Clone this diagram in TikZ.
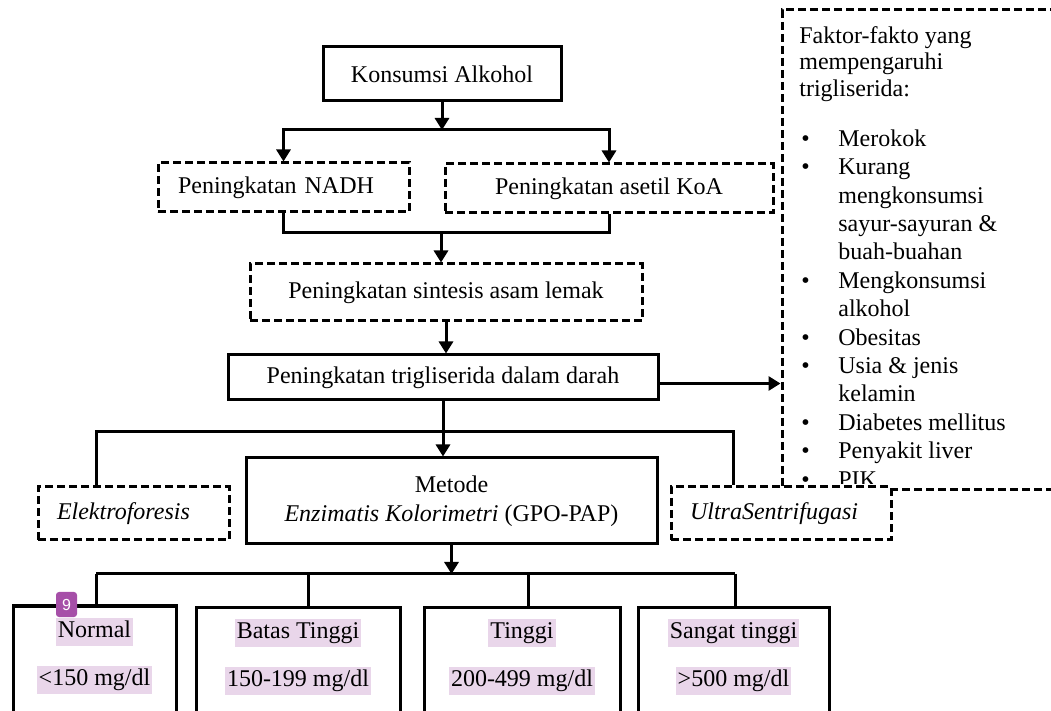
\documentclass[tikz,border=0pt]{standalone}
\usepackage{fontspec}
\setmainfont{Liberation Serif}
\newfontfamily\badgefont{Liberation Sans}
\usetikzlibrary{positioning,arrows.meta}
\definecolor{hlpink}{HTML}{E9D6EA}
\definecolor{badge}{HTML}{A64FA8}
\newcommand\butir{\makebox[19.5pt][l]{\hspace{1pt}\textbullet}}
\newcommand\lanjut{\hspace*{19.5pt}}
\tikzset{
  sbox/.style={draw, line width=1.5pt, fill=white, inner sep=0pt, align=center},
  dbox/.style={sbox, dash pattern=on 4pt off 2pt},
  link/.style={line width=1.5pt},
  arr/.style={link, -{Triangle[length=6pt,width=7pt]}},
  hl/.style={fill=hlpink, inner xsep=1pt, inner ysep=0pt},
}
\begin{document}
\begin{tikzpicture}[x=0.5pt,y=-0.5pt,font=\fontsize{12}{13.8}\selectfont]
    \useasboundingbox (0,0) rectangle (1051,711);
    \clip (0,0) rectangle (1051,711);
    \node[dbox, minimum width=144pt, minimum height=240pt] (faktor) at (926,250) {};
    \node[anchor=north west, inner sep=0pt, align=left, font=\fontsize{12}{13.4}\selectfont] (fhead) at (799,24)
        {\strut Faktor-fakto yang\\ mempengaruhi\\ trigliserida:};
    \begin{scope}
    \clip (782,12) rectangle (1051,484);
    \node[anchor=north west, inner sep=0pt, align=left, font=\fontsize{12}{14.2}\selectfont] (flist) at (799,126)
        {\strut\butir Merokok\\ \butir Kurang\\ \lanjut mengkonsumsi\\ \lanjut sayur-sayuran \&\\ \lanjut buah-buahan\\
         \butir Mengkonsumsi\\ \lanjut alkohol\\ \butir Obesitas\\ \butir Usia \& jenis\\ \lanjut kelamin\\
         \butir Diabetes mellitus\\ \butir Penyakit liver\\ \butir PIK};
    \end{scope}
    \node[sbox, minimum width=119pt, minimum height=27pt] (ka) at (442,74) {Konsumsi Alkohol};
    \node[dbox, text width=105.5pt, inner xsep=10pt, align=left, minimum height=24.5pt] (nadh) at (283.5,187.5) {Peningkatan NADH};
    \node[dbox, minimum width=164pt, minimum height=24.5pt] (koa) at (609,188.5) {Peningkatan asetil KoA};
    \node[dbox, minimum width=196pt, minimum height=28.5pt] (sint) at (446,292.5) {Peningkatan sintesis asam lemak};
    \node[sbox, minimum width=215pt, minimum height=22.5pt] (trig) at (443,377.5) {Peningkatan trigliserida dalam darah};
    \node[sbox, minimum width=205.5pt, minimum height=43pt, font=\fontsize{12}{14.5}\selectfont] (metode) at (451.5,501)
        {Metode\\ \textit{Enzimatis Kolorimetri} (GPO-PAP)};
    \node[dbox, text width=76.5pt, inner xsep=9.5pt, align=left, minimum height=26.5pt] (elek) at (133.5,513.5) {\textit{Elektroforesis}};
    \node[dbox, text width=91pt, inner xsep=9.5pt, align=left, minimum height=26.5pt] (ultra) at (781,513.5) {\textit{UltraSentrifugasi}};
    \node[sbox, minimum width=81.5pt, minimum height=62pt] (normal) at (94.5,668) {};
    \node[sbox, minimum width=102pt, minimum height=62pt] (batas) at (298,669) {};
    \node[sbox, minimum width=98pt, minimum height=62pt] (tinggi) at (522,669) {};
    \node[sbox, minimum width=95.5pt, minimum height=62pt] (sangat) at (733.5,669) {};
    \node[hl, below=6.5pt of normal.north] (normalA) {\strut Normal};
    \node[hl, below=10pt of normalA] (normalB) {\strut <150 mg/dl};
    \node[hl, below=6.5pt of batas.north] (batasA) {\strut Batas Tinggi};
    \node[hl, below=10pt of batasA] (batasB) {\strut 150-199 mg/dl};
    \node[hl, below=6.5pt of tinggi.north] (tinggiA) {\strut Tinggi};
    \node[hl, below=10pt of tinggiA] (tinggiB) {\strut 200-499 mg/dl};
    \node[hl, below=6.5pt of sangat.north] (sangatA) {\strut Sangat tinggi};
    \node[hl, below=10pt of sangatA] (sangatB) {\strut >500 mg/dl};
    \node[fill=badge, rounded corners=1.5pt, minimum width=10.5pt, minimum height=12.5pt, inner sep=0pt,
          text=white, font=\badgefont\fontsize{8}{8}\selectfont] (tanda) at (66.5,604.5) {9};

    \coordinate (s1) at (442,130);
    \coordinate (s2) at (441,233);
    \coordinate (b1) at (96,432);
    \coordinate (b2) at (733,432);
    \coordinate (c1) at (96,574);
    \coordinate (c2) at (308,574);
    \coordinate (c3) at (528,574);
    \coordinate (c4) at (735,574);
    \draw[arr] (ka.south) -- (s1);
    \draw[arr] (s1) -| (nadh.north);
    \draw[arr] (s1) -| (koa.north);
    \draw[link] (nadh.south) |- (s2) -| (koa.south);
    \draw[arr] (s2) -- (s2 |- sint.north);
    \draw[arr] (sint.south) -- (sint.south |- trig.north);
    \draw[arr] ([yshift=-3pt]trig.east) -- ([yshift=-3pt]trig.east -| faktor.west);
    \draw[arr] (trig.south) -- (trig.south |- metode.north);
    \draw[link] (elek.north -| b1) |- (b2) -- (b2 |- ultra.north);
    \draw[arr] (metode.south) -- (metode.south |- c1);
    \draw[link] (c1) -- (c4);
    \draw[link] (c1) -- (c1 |- normal.north);
    \draw[link] (c2) -- (c2 |- batas.north);
    \draw[link] (c3) -- (c3 |- tinggi.north);
    \draw[link] (c4) -- (c4 |- sangat.north);
\end{tikzpicture}
\end{document}
